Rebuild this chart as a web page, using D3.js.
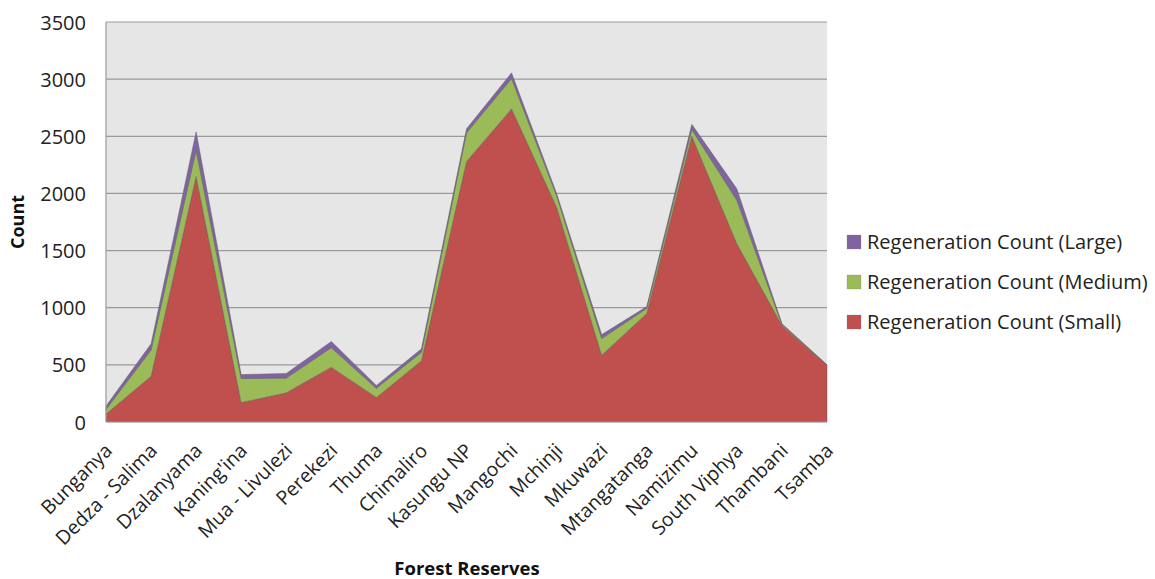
<!DOCTYPE html>
<html>
<head>
<meta charset="utf-8">
<script src="https://cdn.jsdelivr.net/npm/d3@7"></script>
<style>
  html, body { margin: 0; padding: 0; background: #ffffff; }
  svg { display: block; font-family: "Open Sans", "Noto Sans", sans-serif; }
</style>
</head>
<body>
<svg id="chart" width="1155" height="579"></svg>
<script>
// Forest reserves along the x axis
const categories = [
  "Bunganya", "Dedza - Salima", "Dzalanyama", "Kaning'ina", "Mua - Livulezi",
  "Perekezi", "Thuma", "Chimaliro", "Kasungu NP", "Mangochi", "Mchinji",
  "Mkuwazi", "Mtangatanga", "Namizimu", "South Viphya", "Thambani", "Tsamba"
];

// Regeneration counts per size class (stacked bottom to top: small, medium, large)
const smallCounts  = [70, 400, 2150, 170, 255, 480, 215, 535, 2280, 2740, 1880, 585, 950, 2500, 1560, 845, 495];
const mediumCounts = [40, 230, 230, 210, 130, 170, 80, 75, 250, 265, 100, 145, 45, 60, 380, 10, 3];
const largeCounts  = [30, 55, 160, 35, 40, 55, 25, 30, 35, 50, 20, 35, 15, 45, 100, 5, 2];

const yTicks = [0, 500, 1000, 1500, 2000, 2500, 3000, 3500];

const seriesNames = {
  small: "Regeneration Count (Small)",
  medium: "Regeneration Count (Medium)",
  large: "Regeneration Count (Large)"
};
const seriesColors = { small: "#C0504D", medium: "#9BBB59", large: "#8064A2" };

const rows = categories.map((c, i) => ({
  name: c, small: smallCounts[i], medium: mediumCounts[i], large: largeCounts[i]
}));

const svg = d3.select("#chart");
const plot = { left: 106, right: 827, top: 22, bottom: 422 };

const x = d3.scalePoint().domain(categories).range([plot.left, plot.right]).padding(0);
const y = d3.scaleLinear().domain([0, 3500]).range([plot.bottom, plot.top]);

// plot background
svg.append("rect")
  .attr("x", plot.left).attr("y", plot.top)
  .attr("width", plot.right - plot.left).attr("height", plot.bottom - plot.top)
  .attr("fill", "#E6E6E6");

// horizontal gridlines
svg.append("g").selectAll("line").data(yTicks.filter(t => t > 0)).join("line")
  .attr("x1", plot.left).attr("x2", plot.right)
  .attr("y1", d => y(d)).attr("y2", d => y(d))
  .attr("stroke", "#9A9A9A").attr("stroke-width", 1.2);

// stacked areas
const keys = ["small", "medium", "large"];
const stacked = d3.stack().keys(keys)(rows);
const area = d3.area()
  .x(d => x(d.data.name))
  .y0(d => y(d[0]))
  .y1(d => y(d[1]));

svg.append("g").selectAll("path").data(stacked).join("path")
  .attr("d", area)
  .attr("fill", d => seriesColors[d.key])
  .attr("stroke", "#5E5E5E")
  .attr("stroke-opacity", 0.55)
  .attr("stroke-width", 0.8)
  .attr("stroke-linejoin", "miter");

// axes lines
svg.append("line")
  .attr("x1", plot.left).attr("x2", plot.left)
  .attr("y1", plot.top).attr("y2", plot.bottom)
  .attr("stroke", "#9A9A9A").attr("stroke-width", 1.2);
svg.append("line")
  .attr("x1", plot.left).attr("x2", plot.right)
  .attr("y1", plot.bottom).attr("y2", plot.bottom)
  .attr("stroke", "#A0A0A0").attr("stroke-width", 1.2);

// y axis tick labels
const yAxis = d3.axisLeft(y).tickValues(yTicks).tickFormat(d3.format("d")).tickSize(0).tickPadding(0);
const yg = svg.append("g").attr("transform", `translate(${plot.left - 20},0)`).call(yAxis);
yg.select(".domain").remove();
yg.selectAll("text")
  .attr("font-size", 20).attr("fill", "#222").attr("font-family", "Open Sans, sans-serif")
  .attr("dy", "0.35em");

// x axis tick labels, rotated
const xAxis = d3.axisBottom(x).tickSize(0).tickPadding(0);
const xg = svg.append("g").attr("transform", `translate(0,${plot.bottom})`).call(xAxis);
xg.select(".domain").remove();
xg.selectAll(".tick text")
  .attr("font-size", 19.5).attr("fill", "#222").attr("font-family", "Open Sans, sans-serif")
  .attr("text-anchor", "end")
  .attr("y", 0).attr("dy", "0.35em")
  .attr("transform", "translate(2,25) rotate(-45)");

// axis titles
svg.append("text")
  .attr("transform", `translate(24,${(plot.top + plot.bottom) / 2}) rotate(-90)`)
  .attr("text-anchor", "middle")
  .attr("font-size", 18).attr("font-weight", "bold").attr("fill", "#111")
  .text("Count");

svg.append("text")
  .attr("x", 467).attr("y", 569)
  .attr("dy", "0.35em")
  .attr("text-anchor", "middle")
  .attr("font-size", 18.5).attr("font-weight", "bold").attr("fill", "#111")
  .text("Forest Reserves");

// legend
const legendOrder = ["large", "medium", "small"];
const lg = svg.append("g").attr("transform", "translate(847,242)");
const item = lg.selectAll("g").data(legendOrder).join("g")
  .attr("transform", (d, i) => `translate(0,${i * 40})`);
item.append("rect")
  .attr("x", 0).attr("y", -7).attr("width", 14).attr("height", 14)
  .attr("fill", d => seriesColors[d])
  .attr("stroke", "#777").attr("stroke-opacity", 0.4).attr("stroke-width", 0.6);
item.append("text")
  .attr("x", 20).attr("y", 0).attr("dy", "0.35em")
  .attr("font-size", 20).attr("fill", "#222")
  .text(d => seriesNames[d]);
</script>
</body>
</html>
